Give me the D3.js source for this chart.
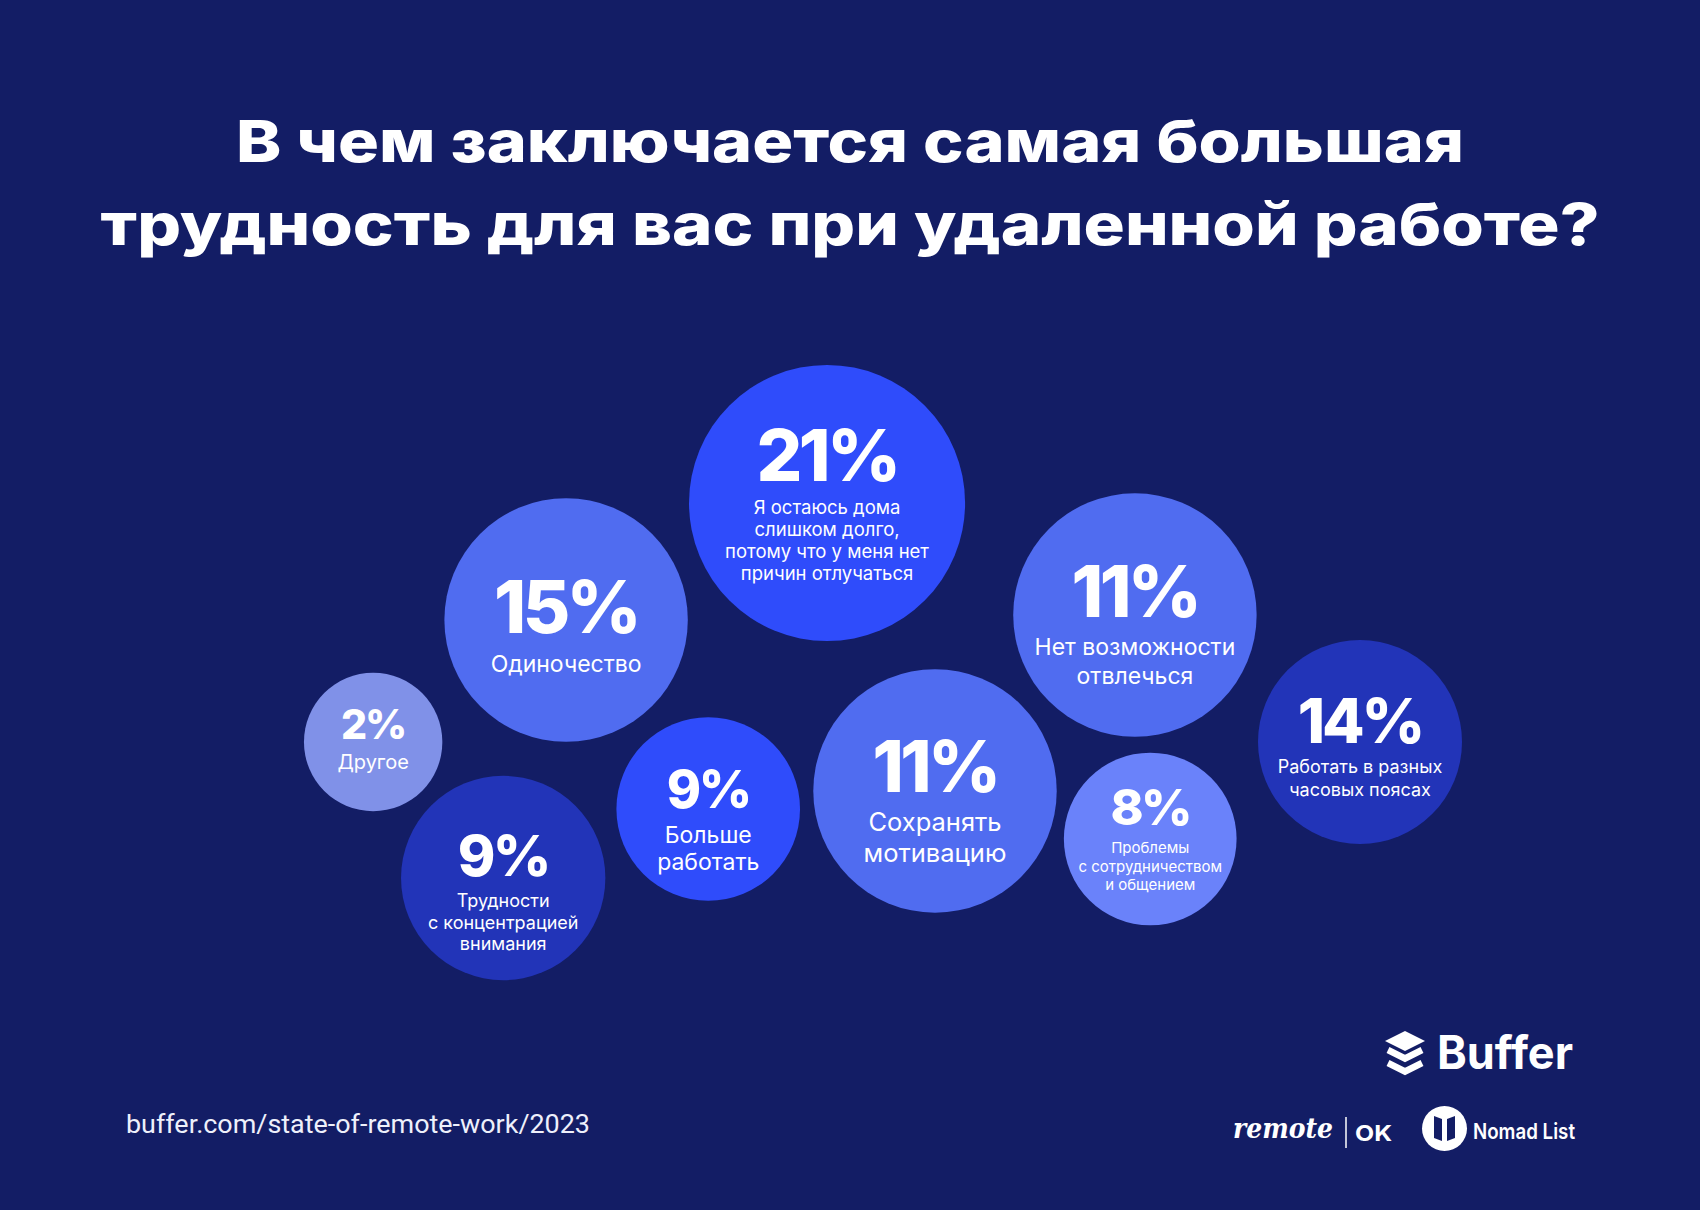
<!DOCTYPE html>
<html><head><meta charset="utf-8">
<script src="https://cdn.jsdelivr.net/npm/d3@7"></script>
<style>html,body{margin:0;padding:0;background:#131d65;} svg{display:block}</style>
</head><body><svg id="chart" width="1700" height="1210"></svg>
<script>
// ---------- data ----------
const titleLines = ["В чем заключается самая большая", "трудность для вас при удаленной работе?"];
const categories = [
  "Я остаюсь дома слишком долго, потому что у меня нет причин отлучаться",
  "Одиночество",
  "Нет возможности отвлечься",
  "Работать в разных часовых поясах",
  "Сохранять мотивацию",
  "Больше работать",
  "Проблемы с сотрудничеством и общением",
  "Трудности с концентрацией внимания",
  "Другое"
];
const labelLines = [
  ["Я остаюсь дома", "слишком долго,", "потому что у меня нет", "причин отлучаться"],
  ["Одиночество"],
  ["Нет возможности", "отвлечься"],
  ["Работать в разных", "часовых поясах"],
  ["Сохранять", "мотивацию"],
  ["Больше", "работать"],
  ["Проблемы", "с сотрудничеством", "и общением"],
  ["Трудности", "с концентрацией", "внимания"],
  ["Другое"]
];
const values = [21, 15, 11, 14, 11, 9, 8, 9, 2];
const sourceText = "buffer.com/state-of-remote-work/2023";
const logoTexts = ["Buffer", "remote", "OK", "Nomad List"];

// ---------- layout (normalised positions/sizes, kept apart from the data) ----------
const bubbleLayout = [
  {x: 0.4865, y: 0.4157, r: 0.0812, tone: 0, pct: 72, pctDy: -22, lab: 18.5, labDy: 4, lh: 22.2},
  {x: 0.3330, y: 0.5124, r: 0.0716, tone: 1, pct: 73, pctDy: 13, lab: 23, labDy: 44, lh: 28},
  {x: 0.6676, y: 0.5083, r: 0.0716, tone: 1, pct: 72, pctDy: 2, lab: 23, labDy: 32, lh: 28.3},
  {x: 0.8000, y: 0.6132, r: 0.0600, tone: 3, pct: 62, pctDy: 1, lab: 18, labDy: 25, lh: 22.6},
  {x: 0.5500, y: 0.6537, r: 0.0716, tone: 1, pct: 71, pctDy: 1, lab: 25.5, labDy: 31, lh: 31},
  {x: 0.4166, y: 0.6686, r: 0.0540, tone: 0, pct: 52, pctDy: -1, lab: 23, labDy: 26, lh: 26.6},
  {x: 0.6766, y: 0.6934, r: 0.0508, tone: 4, pct: 50, pctDy: -14, lab: 15, labDy: 9, lh: 18.4},
  {x: 0.2960, y: 0.7256, r: 0.0601, tone: 3, pct: 57, pctDy: -2, lab: 18, labDy: 23, lh: 21.5},
  {x: 0.2195, y: 0.6132, r: 0.0407, tone: 2, pct: 41, pctDy: -3, lab: 20, labDy: 20, lh: 22}
];
const tones = ["#2f4cfb", "#506cf0", "#8091e8", "#2234b8", "#6a82fa"];

// ---------- drawing ----------
const W = 1700, H = 1210;
const svg = d3.select("#chart");
const sx = d3.scaleLinear().domain([0, 1]).range([0, W]);
const sy = d3.scaleLinear().domain([0, 1]).range([0, H]);
const sr = d3.scaleLinear().domain([0, 1]).range([0, W]);
const color = d3.scaleOrdinal().domain(d3.range(tones.length)).range(tones);

svg.append("rect").attr("width", W).attr("height", H).attr("fill", "#131d65");

// title
const titleWidths = [1228, 1499];
const titleBase = [161.7, 245];
svg.selectAll("text.title").data(titleLines).join("text")
  .attr("class", "title")
  .attr("x", W / 2)
  .attr("y", (d, i) => titleBase[i])
  .attr("text-anchor", "middle")
  .attr("font-family", "Inter, 'Noto Sans', sans-serif")
  .attr("font-weight", 800)
  .attr("font-size", 58)
  .attr("fill", "#ffffff")
  .attr("textLength", (d, i) => titleWidths[i])
  .attr("lengthAdjust", "spacingAndGlyphs")
  .text(d => d);

// bubbles
const bubbles = values.map((v, i) => ({value: v, category: categories[i], lines: labelLines[i], L: bubbleLayout[i]}));
const g = svg.append("g").selectAll("g.bubble").data(bubbles).join("g")
  .attr("class", "bubble")
  .attr("transform", d => `translate(${sx(d.L.x)},${sy(d.L.y)})`);

g.append("circle")
  .attr("r", d => sr(d.L.r))
  .attr("fill", d => color(d.L.tone));

g.append("text")
  .attr("text-anchor", "middle")
  .attr("y", d => d.L.pctDy)
  .attr("font-family", "Inter, sans-serif")
  .attr("font-weight", 800)
  .attr("font-size", d => d.L.pct)
  .attr("letter-spacing", d => -d.L.pct * 0.05)
  .attr("fill", "#ffffff")
  .text(d => d.value + "%");

g.each(function(d) {
  const t = d3.select(this).append("text")
    .attr("text-anchor", "middle")
    .attr("font-family", "Inter, sans-serif")
    .attr("font-weight", 400)
    .attr("font-size", d.L.lab)
    .attr("fill", "#ffffff");
  t.selectAll("tspan").data(d.lines).join("tspan")
    .attr("x", 0)
    .attr("y", (s, j) => d.L.labDy + j * d.L.lh)
    .attr("dy", "0.36em")
    .text(s => s);
});

// source
svg.append("text")
  .attr("x", 126).attr("y", 1133)
  .attr("font-family", "Roboto, sans-serif")
  .attr("font-size", 25)
  .attr("fill", "#eef0fb")
  .attr("textLength", 464)
  .attr("lengthAdjust", "spacingAndGlyphs")
  .text(sourceText);

// Buffer logo
const logo = svg.append("g").attr("fill", "#ffffff");
logo.append("path").attr("d", "M1405,1031 L1425,1041 L1405,1051 L1385,1041 Z");
logo.append("path").attr("d", "M1388,1050 L1405,1058.5 L1422,1050").attr("fill", "none").attr("stroke", "#fff").attr("stroke-width", 6.5).attr("stroke-linejoin", "miter");
logo.append("path").attr("d", "M1388,1063 L1405,1071.5 L1422,1063").attr("fill", "none").attr("stroke", "#fff").attr("stroke-width", 6.5).attr("stroke-linejoin", "miter");
logo.append("text").attr("x", 1437).attr("y", 1068.5)
  .attr("font-family", "Inter, sans-serif").attr("font-weight", 700).attr("font-size", 46)
  .attr("textLength", 136).attr("lengthAdjust", "spacingAndGlyphs")
  .text(logoTexts[0]);

// remote | OK
logo.append("text").attr("x", 1233).attr("y", 1138)
  .attr("font-family", "'DejaVu Serif', serif").attr("font-style", "italic").attr("font-weight", 700).attr("font-size", 28)
  .attr("textLength", 100).attr("lengthAdjust", "spacingAndGlyphs")
  .text(logoTexts[1]);
logo.append("line").attr("x1", 1346).attr("x2", 1346).attr("y1", 1117).attr("y2", 1148)
  .attr("stroke", "#fff").attr("stroke-width", 1.5);
logo.append("text").attr("x", 1355).attr("y", 1141)
  .attr("font-family", "Inter, sans-serif").attr("font-weight", 700).attr("font-size", 22)
  .attr("textLength", 37).attr("lengthAdjust", "spacingAndGlyphs")
  .text(logoTexts[2]);

// Nomad List
logo.append("circle").attr("cx", 1444.5).attr("cy", 1128.5).attr("r", 22.5);
logo.append("path").attr("fill", "#131d65")
  .attr("d", "M1434,1116 L1442,1119 L1442,1141 L1434,1138 Z M1447,1119 L1455,1116 L1455,1138 L1447,1141 Z");
logo.append("text").attr("x", 1473).attr("y", 1138.5)
  .attr("font-family", "Inter, sans-serif").attr("font-weight", 600).attr("font-size", 22)
  .attr("textLength", 102).attr("lengthAdjust", "spacingAndGlyphs")
  .text(logoTexts[3]);
</script>
</body></html>
